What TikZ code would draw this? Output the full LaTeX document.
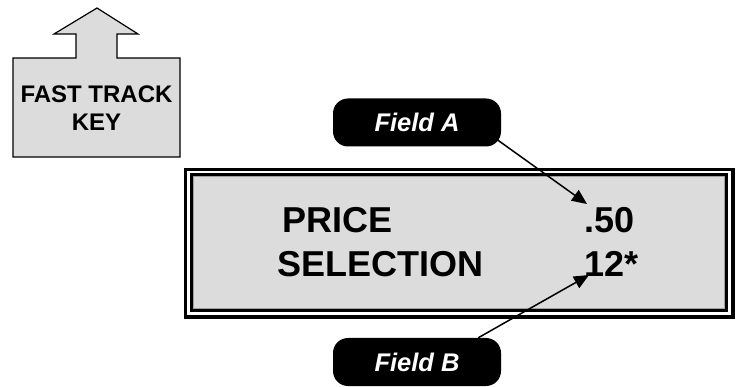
\documentclass[tikz,border=0pt]{standalone}
\usepackage{fontspec}
\setmainfont{Liberation Sans}
\usepackage{xcolor}
\usetikzlibrary{calc,positioning,arrows.meta}
\definecolor{panel}{HTML}{DCDCDC}
\definecolor{rim}{HTML}{A0A0A0}
\newcommand{\Lcd}{\fontsize{36}{40}\selectfont\bfseries}
\newcommand{\Keyf}{\fontsize{24}{28}\selectfont\bfseries}
\newcommand{\Tagf}{\fontsize{25.5}{30}\selectfont\bfseries\itshape}

\begin{document}
\begin{tikzpicture}[x=1pt,y=-1pt,
    lcd/.style={font=\Lcd, inner sep=0pt, anchor=base west},
    tagbox/.style={fill=black, text=white, font=\Tagf, rounded corners=15pt,
                   minimum width=168pt, minimum height=48pt, inner sep=0pt},
    ptr/.style={line width=1.5pt, -{Triangle[length=15pt,width=13pt]}}]
      \useasboundingbox (0,0) rectangle (739,387);
      % fast track key
      \filldraw[fill=panel, line width=1.2pt, line join=miter]
        (13,58) -- (76,58) -- (76,34) -- (54,34) -- (97,8) -- (138,34) -- (117,34)
        -- (117,58) -- (180,58) -- (180,157) -- (13,157) -- cycle;
      \node[font=\Keyf, align=center, inner sep=0pt] (key) at (96.5,108) {FAST TRACK\\KEY};
      % display window
      \draw[line width=3.5pt] (185.5,169.5) rectangle (733,317);
      \draw[line width=3pt] (191.5,174.5) rectangle (726,310.5);
      \filldraw[fill=panel, draw=rim, line width=1pt] (193.5,176.5) rectangle (724,308.5);
      \foreach \i/\lbl/\lx/\val in {0/PRICE/282/.50, 1/SELECTION/277/12*}{
        \node[lcd] (lbl\i) at (\lx,232.5+\i*44.5) {\lbl};
        \node[lcd] (val\i) at (584,232.5+\i*44.5) {\val};
      }
      % field tags
      \node[tagbox] (fa) at (417,122.5) {Field A};
      \node[tagbox] (fb) at (417,362) {Field B};
      \coordinate (tipA) at (587,204);
      \coordinate (tipB) at (589,275);
      \draw[ptr] ([xshift=-4pt,yshift=7pt]fa.south east) -- (tipA);
      \draw[ptr] ([xshift=-23pt]fb.north east) -- (tipB);
    \end{tikzpicture}
\end{document}
